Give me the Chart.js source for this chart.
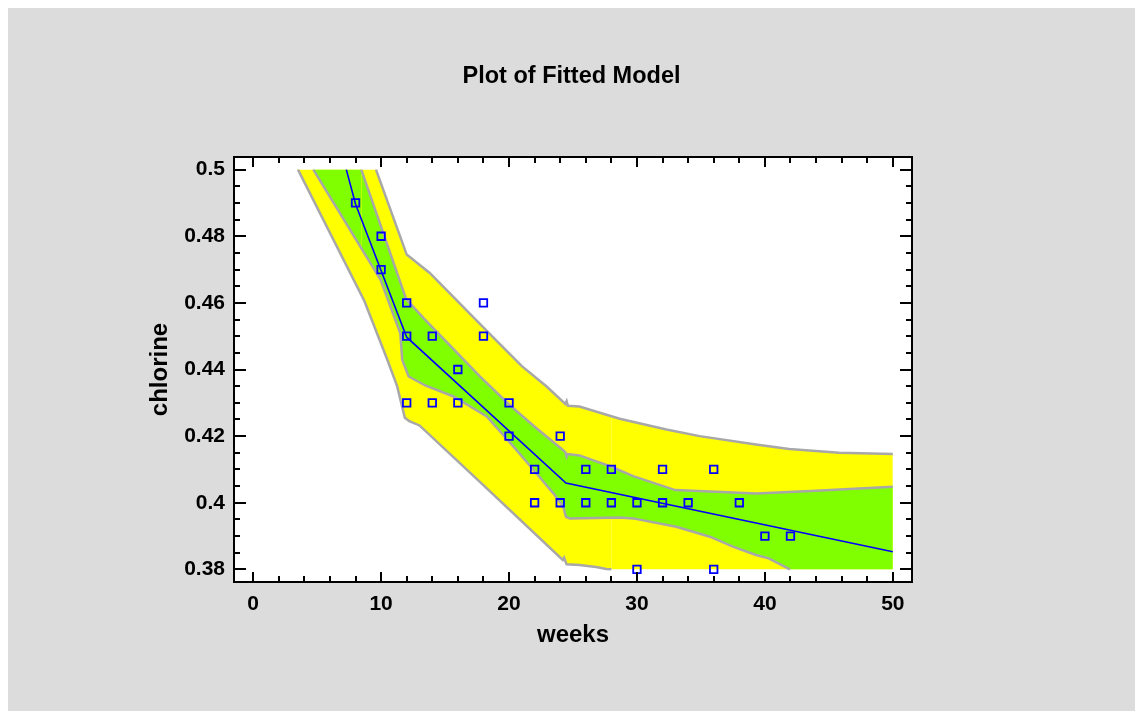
<!DOCTYPE html>
<html>
<head>
<meta charset="utf-8">
<title>Plot of Fitted Model</title>
<script src="https://cdn.jsdelivr.net/npm/chart.js@4.4.1/dist/chart.umd.min.js"></script>
<style>
  body { margin: 8px; background: #fff; }
  #chart { display: block; background: #dcdcdc; }
</style>
</head>
<body>
<canvas id="chart" width="1127" height="703"></canvas>
<script>
// observed data
const weeks    = [8, 10, 10, 12, 12, 12, 14, 14, 16, 16, 18, 18, 20, 20, 22, 22, 24, 24, 26, 26, 28, 28, 30, 30, 32, 32, 34, 36, 36, 38, 40, 42];
const chlorine = [0.49, 0.48, 0.47, 0.46, 0.45, 0.43, 0.45, 0.43, 0.44, 0.43, 0.46, 0.45, 0.43, 0.42, 0.41, 0.40, 0.42, 0.40, 0.41, 0.40, 0.41, 0.40, 0.40, 0.38, 0.41, 0.40, 0.40, 0.41, 0.38, 0.40, 0.39, 0.39];

// fitted model
const fitX = [7.28, 8, 12, 24.45, 50];
const fitY = [0.5, 0.4897, 0.4497, 0.4059, 0.3853];

// confidence limits (green band), clipped at 0.38 / 0.5 as in the picture
const confUpperX = [4.7, 8.45, 11.95, 12.1, 13.3, 17.7, 20, 22, 24, 24.4, 24.5, 24.6, 25.5, 28, 29.7, 33, 36.2, 39.3, 44, 46.6, 50];
const confUpperY = [0.5, 0.5, 0.4612, 0.4605, 0.4555, 0.438, 0.4295, 0.4228, 0.4165, 0.4152, 0.4138, 0.4146, 0.4142, 0.4108, 0.408, 0.4038, 0.4033, 0.4028, 0.4036, 0.4041, 0.4048];
const confLowerX = [4.7, 9.95, 11.5, 11.65, 12.15, 13.45, 15.66, 18.26, 20.34, 21.9, 23.45, 24.23, 24.45, 24.75, 28.65, 29.7, 33.07, 35.7, 37.5, 39.3, 40.3, 41.96, 50];
const confLowerY = [0.5, 0.467, 0.4509, 0.4429, 0.4379, 0.4352, 0.4319, 0.4259, 0.4169, 0.4099, 0.4029, 0.3989, 0.3958, 0.3953, 0.3956, 0.3953, 0.3928, 0.3898, 0.3868, 0.3843, 0.3833, 0.38, 0.38];

// prediction limits (yellow band)
const predUpperX = [3.5, 9.6, 12, 13.8, 18.8, 21, 22.94, 24.4, 24.5, 24.6, 25.5, 28.65, 32.3, 34.9, 39.3, 41.9, 45.8, 50];
const predUpperY = [0.5, 0.5, 0.4745, 0.469, 0.4495, 0.441, 0.4349, 0.4297, 0.4305, 0.4291, 0.4289, 0.4252, 0.422, 0.42, 0.4175, 0.4161, 0.415, 0.4146];
const predLowerX = [3.5, 8.7, 10.47, 11.25, 11.85, 12.2, 13, 17.74, 24.2, 24.3, 24.5, 25.5, 26.8, 27.6, 28, 50];
const predLowerY = [0.5, 0.4605, 0.4431, 0.435, 0.4255, 0.4245, 0.4232, 0.4062, 0.3828, 0.3835, 0.3815, 0.3813, 0.3807, 0.3801, 0.38, 0.38];

// axes
const xTicks = [0, 10, 20, 30, 40, 50];
const xTickLabels = ['0', '10', '20', '30', '40', '50'];
const yTicks = [0.38, 0.40, 0.42, 0.44, 0.46, 0.48, 0.50];
const yTickLabels = ['0.38', '0.4', '0.42', '0.44', '0.46', '0.48', '0.5'];

const FONT = '"Liberation Sans", Arial, sans-serif';
const EDGE = '#a8a8a8';

function pts(xs, ys) {
    return xs.map((x, i) => ({ x: x, y: ys[i] }));
}

// no outline where the band is only cut by the plot limits
function hideClamped(ctx) {
    const a = ctx.p0.parsed.y, b = ctx.p1.parsed.y;
    if ((a >= 0.5 && b >= 0.5) || (a <= 0.38 && b <= 0.38)) return 'rgba(0,0,0,0)';
    return undefined;
}

function band(label, xs, ys, fill, color) {
    return {
        label: label,
        data: pts(xs, ys),
        borderColor: EDGE,
        borderWidth: 2.5,
        backgroundColor: color,
        fill: fill,
        pointRadius: 0,
        tension: 0,
        segment: { borderColor: hideClamped }
    };
}

const plotBackground = {
    id: 'plotBackground',
    beforeDraw(chart) {
        const { ctx, chartArea: a } = chart;
        ctx.save();
        ctx.fillStyle = '#fff';
        ctx.fillRect(a.left, a.top, a.right - a.left, a.bottom - a.top);
        ctx.restore();
    }
};

// box with inward ticks on all four sides
const frameTicks = {
    id: 'frameTicks',
    afterDraw(chart) {
        const { ctx, chartArea: a, scales } = chart;
        ctx.save();
        ctx.strokeStyle = '#000';
        ctx.lineWidth = 2;
        ctx.strokeRect(a.left, a.top, a.right - a.left, a.bottom - a.top);
        ctx.beginPath();
        for (let v = 0; v <= 50; v += 2) {
            const px = Math.round(scales.x.getPixelForValue(v));
            const len = v % 10 === 0 ? 10 : 6;
            ctx.moveTo(px, a.bottom); ctx.lineTo(px, a.bottom - len);
            ctx.moveTo(px, a.top); ctx.lineTo(px, a.top + len);
        }
        for (let k = 0; k <= 24; k++) {
            const py = Math.round(scales.y.getPixelForValue(0.38 + k * 0.005));
            const len = k % 4 === 0 ? 12 : 6;
            ctx.moveTo(a.left, py); ctx.lineTo(a.left + len, py);
            ctx.moveTo(a.right, py); ctx.lineTo(a.right - len, py);
        }
        ctx.stroke();
        ctx.restore();
    }
};

new Chart(document.getElementById('chart'), {
    type: 'line',
    data: {
        datasets: [
            {
                label: 'chlorine',
                data: pts(weeks, chlorine),
                showLine: false,
                pointStyle: 'rect',
                pointRadius: 5.3,
                pointHoverRadius: 5.3,
                pointBorderColor: '#0000ff',
                pointBackgroundColor: 'rgba(0,0,0,0)',
                pointBorderWidth: 1.8
            },
            {
                label: 'fit',
                data: pts(fitX, fitY),
                borderColor: '#0000ff',
                borderWidth: 1.6,
                pointRadius: 0,
                tension: 0,
                fill: false
            },
            band('conf upper', confUpperX, confUpperY, '+1', '#80ff00'),
            band('conf lower', confLowerX, confLowerY, false, '#80ff00'),
            band('pred upper', predUpperX, predUpperY, '+1', '#ffff00'),
            band('pred lower', predLowerX, predLowerY, false, '#ffff00')
        ]
    },
    options: {
        responsive: false,
        animation: false,
        devicePixelRatio: 1,
        layout: { padding: 0 },
        plugins: {
            legend: { display: false },
            tooltip: { enabled: false },
            filler: { drawTime: 'beforeDatasetsDraw' },
            title: {
                display: true,
                text: 'Plot of Fitted Model',
                color: '#000',
                font: { family: FONT, size: 23.5, weight: 'bold' },
                padding: { top: 54.6, bottom: 66.2 }
            }
        },
        scales: {
            x: {
                type: 'linear',
                min: -1.5,
                max: 51.5,
                grid: { display: false, drawTicks: false },
                border: { display: false },
                afterBuildTicks: s => { s.ticks = xTicks.map(v => ({ value: v })); },
                afterFit: s => { s.height = 129; },
                ticks: {
                    color: '#000',
                    font: { family: FONT, size: 21, weight: 'bold' },
                    padding: 10,
                    maxRotation: 0,
                    autoSkip: false,
                    callback: (v, i) => xTickLabels[i]
                },
                title: {
                    display: true,
                    text: 'weeks',
                    color: '#000',
                    font: { family: FONT, size: 24, weight: 'bold' },
                    padding: { top: 0, bottom: 61 }
                }
            },
            y: {
                min: 0.3762,
                max: 0.5038,
                grid: { display: false, drawTicks: false },
                border: { display: false },
                afterBuildTicks: s => { s.ticks = yTicks.map(v => ({ value: v })); },
                afterFit: s => { s.width = 226; },
                ticks: {
                    color: '#000',
                    font: { family: FONT, size: 21, weight: 'bold' },
                    padding: 9,
                    autoSkip: false,
                    callback: (v, i) => yTickLabels[i]
                },
                title: {
                    display: true,
                    text: 'chlorine',
                    color: '#000',
                    font: { family: FONT, size: 24, weight: 'bold' },
                    padding: { top: 138, bottom: 0 }
                }
            },
            // empty right-hand axis, only reserves the right margin
            yRight: {
                position: 'right',
                grid: { display: false, drawTicks: false },
                border: { display: false },
                ticks: { display: false },
                afterFit: s => { s.width = 223; }
            }
        }
    },
    plugins: [plotBackground, frameTicks]
});
</script>
</body>
</html>
